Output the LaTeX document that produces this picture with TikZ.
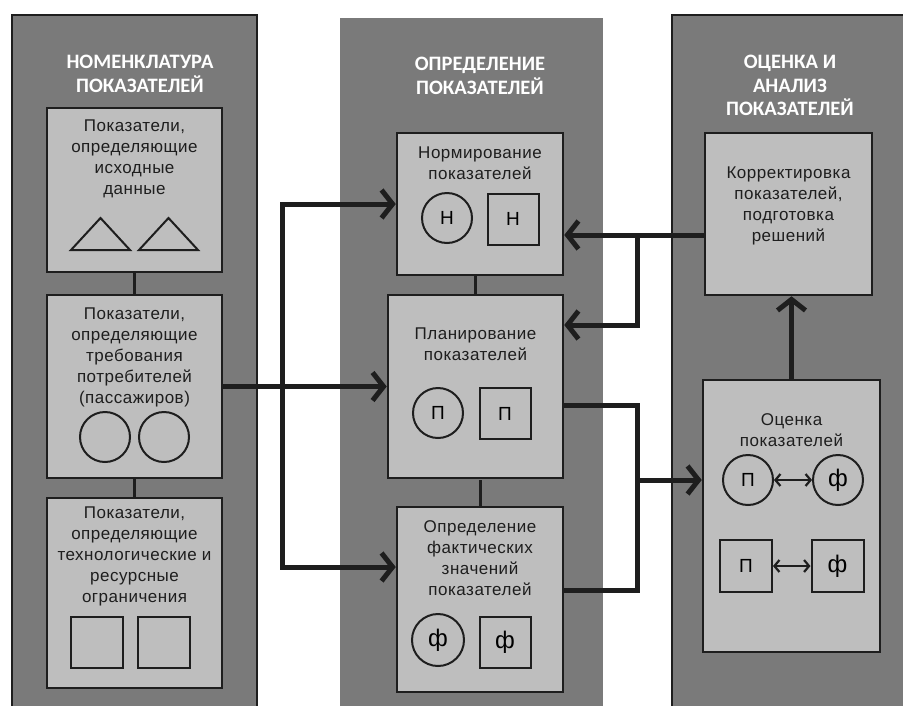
\documentclass[tikz,border=0pt]{standalone}
\usepackage{fontspec}
\setmainfont{Liberation Sans}[LetterSpace=3]
\newfontfamily\titelfont{Carlito}
\usetikzlibrary{arrows.meta, positioning}
\definecolor{panel}{HTML}{7A7A7A}
\definecolor{feld}{HTML}{BEBEBE}
\definecolor{rand}{HTML}{1E1E1E}

\begin{document}
\begin{tikzpicture}[x=1pt, y=-1pt,
    panelrand/.style={fill=panel, draw=rand, line width=1.5pt},
    box/.style={draw=rand, fill=feld, line width=2.5pt, inner sep=0pt},
    boxtext/.style={anchor=north, align=center, inner sep=0pt, text=rand,
      font=\fontsize{17}{21}\selectfont},
    titel/.style={anchor=north, align=center, inner sep=0pt, text=white,
      font=\titelfont\bfseries\fontsize{20.5}{23.5}\selectfont},
    kreis/.style={draw=rand, fill=feld, circle, line width=2pt, minimum size=50pt,
      inner sep=0pt, font=\fontsize{19}{19}\selectfont},
    quadrat/.style={draw=rand, fill=feld, line width=2pt, minimum size=51pt,
      inner sep=0pt, font=\fontsize{19}{19}\selectfont},
    gross/.style={font=\fontsize{24}{24}\selectfont},
    figur/.style={draw=rand, line width=2pt},
    flow/.style={draw=rand, line width=5pt, -{Straight Barb[length=11pt, width=28pt]}},
    link/.style={draw=rand, line width=5pt},
    joint/.style={draw=rand, line width=3pt},
    pfeil/.style={draw=rand, line width=2.2pt, {Straight Barb[length=5pt, width=12pt]}-{Straight Barb[length=5pt, width=12pt]}}]
  \useasboundingbox (0,0) rectangle (903,705);
  \clip (0,0) rectangle (903,705);

  % --- Hintergrund: drei Spalten ---
  \fill[white] (0,0) rectangle (903,705);
  \draw[panelrand] (12,15) rectangle (257,720);
  \fill[panel] (340,18) rectangle (603,720);
  \draw[panelrand] (672,15) rectangle (920,720);

  % Spaltentitel
  \node[titel] (t1) at (140,55) {НОМЕНКЛАТУРА\\ПОКАЗАТЕЛЕЙ};
  \node[titel] (t2) at (480,57) {ОПРЕДЕЛЕНИЕ\\ПОКАЗАТЕЛЕЙ};
  \node[titel] (t3) at (790,55) {ОЦЕНКА И\\АНАЛИЗ\\ПОКАЗАТЕЛЕЙ};

  % --- Verbindungen (unter den Kästen) ---
  \coordinate (split) at (282,386.5);
  \coordinate (fb) at (637,235);
  \coordinate (out) at (637,480);

  \draw[joint] (134.5,190) -- (134.5,593);
  \draw[joint] (475.5,300) -- (475.5,270);
  \draw[joint] (480,480) -- (480,510);

  % --- Linke Spalte ---
  \node[box, minimum width=175pt, minimum height=164pt] (l1) at (134.5,190) {};
  \node[box, minimum width=175pt, minimum height=183pt] (l2) at (134.5,386.5) {};
  \node[box, minimum width=175pt, minimum height=190pt] (l3) at (134.5,593) {};

  \node[boxtext] (l1txt) at (134.5,120) {Показатели,\\определяющие\\исходные\\данные};
  \node[boxtext] (l2txt) at (134.5,308) {Показатели,\\определяющие\\требования\\потребителей\\(пассажиров)};
  \node[boxtext] (l3txt) at (134.5,507) {Показатели,\\определяющие\\технологические и\\ресурсные\\ограничения};

  \draw[figur] (71,250) -- (130,250) -- (100.5,218) -- cycle;
  \draw[figur] (139,250) -- (198,250) -- (168.5,218) -- cycle;
  \draw[figur] (105,437) circle (25);
  \draw[figur] (164,437) circle (25);
  \draw[figur] (71,617) rectangle (123,668);
  \draw[figur] (138,617) rectangle (190,668);

  % --- Mittlere Spalte ---
  \node[box, minimum width=166pt, minimum height=142pt] (m1) at (480,204) {};
  \node[box, minimum width=175pt, minimum height=183pt] (m2) at (475.5,386.5) {};
  \node[box, minimum width=166pt, minimum height=185pt] (m3) at (480,599.5) {};

  \node[boxtext] (m1txt) at (480,147) {Нормирование\\показателей};
  \node[boxtext] (m2txt) at (475.5,328) {Планирование\\показателей};
  \node[boxtext] (m3txt) at (480,520) {Определение\\фактических\\значений\\показателей};

  \node[kreis] (nk) at (447,218) {Н};
  \node[quadrat] (nq) at (513,219) {Н};
  \node[kreis] (pk) at (438,413) {П};
  \node[quadrat] (pq) at (505,413.5) {П};
  \node[kreis, gross, minimum size=52pt] (fk) at (438,640) {ф};
  \node[quadrat, gross] (fq) at (505,642.5) {ф};

  % --- Rechte Spalte ---
  \node[box, minimum width=167pt, minimum height=162pt] (r1) at (788.5,214) {};
  \node[box, minimum width=177pt, minimum height=272pt] (r2) at (791.5,516) {};

  \node[boxtext] (r1txt) at (788.5,167) {Корректировка\\показателей,\\подготовка\\решений};
  \node[boxtext] (r2txt) at (791.5,413) {Оценка\\показателей};

  \node[kreis] (opk) at (748,480) {П};
  \node[kreis, gross] (ofk) at (838,480) {ф};
  \node[quadrat, minimum size=52pt] (opq) at (746,566) {П};
  \node[quadrat, gross, minimum size=52pt] (ofq) at (837.5,566) {ф};
  \draw[pfeil] (opk) -- (ofk);
  \draw[pfeil] (opq) -- (ofq);

  % --- Pfeile zwischen den Spalten ---
  \draw[flow] (l2.east) -- (m2.west);
  \draw[flow] (split) |- (m1.west);
  \draw[flow] (split) |- ([yshift=32.5pt]m3.west);

  \draw[flow] (r1.west |- fb) -- (m1.east |- fb);
  \draw[flow] (fb) |- ([yshift=61.5pt]m2.east);

  \draw[link] ([yshift=-18.5pt]m2.east) -| (out);
  \draw[link] ([yshift=9.5pt]m3.east) -| (out);
  \draw[flow] (out) -- (r2.west |- out);

  \draw[flow] (r2.north) -- (r2.north |- r1.south);
\end{tikzpicture}
\end{document}
